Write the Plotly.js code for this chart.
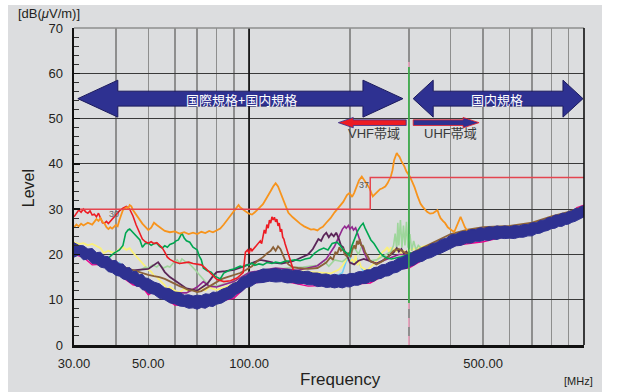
<!DOCTYPE html>
<html><head><meta charset="utf-8">
<script src="https://cdn.plot.ly/plotly-3.0.1.min.js"></script>
<style>
html,body{margin:0;padding:0;background:#fff;width:623px;height:392px;overflow:hidden;}
#chart{position:absolute;left:8px;top:5px;width:594px;height:387px;}
</style></head><body><div id="chart"></div>
<script>
// ---- axis ticks ----
const gridF = [30,40,50,60,70,80,90,100,200,300,400,500,600,700,800,900,1000];
const gridLabels = ['30.00','','50.00','','','','','100.00','','','','500.00','','','','','1000.00'];

// ---- limit line ----
const limitF = [30,230,230,1000];
const limitV = [30,30,37,37];

// ---- VHF/UHF boundary marker (300 MHz) and 100 MHz rule ----
const boundF = [300,300];
const boundGreenV = [9.3,61.4];
const boundPinkV = [0,9.3];
const boundTopV = [61.4,62.5];
const line100F = [100,100];
const line100V = [0,70];

// ---- blue band (lowest trace, noisy band envelope) ----
const blueF = [30,31,32,33,34,35,36,37,38,39,
40,41,42,43,44,45,46,47,48,49,
50,52,54,56,58,60,62,64,66,68,
70,72,74,76,78,80,83,86,89,92,
95,98,101,105,110,115,120,125,130,135,
140,145,150,155,160,165,170,175,180,185,
190,195,200,206,212,218,224,230,236,242,
248,255,262,270,278,286,295,300,310,320,
330,340,350,362,375,388,400,415,430,445,
460,475,490,505,520,535,550,565,580,600,
620,640,660,680,700,720,740,760,780,800,
820,840,860,880,900,920,940,960,980,1000];
const blueLo = [19.4,19.9,18.8,19.0,18.0,17.9,17.2,17.0,16.2,16.0,
15.4,15.2,14.6,14.4,13.8,13.6,13.0,12.9,12.2,12.1,
11.5,11.2,10.3,10.0,9.3,9.1,8.6,8.5,8.1,8.2,
7.9,8.3,8.1,8.6,8.5,9.0,9.3,10.0,10.4,11.3,
11.8,12.7,12.9,13.7,13.8,14.1,13.9,14.0,13.7,13.8,
13.5,13.6,13.3,13.3,12.9,13.0,12.7,12.8,12.6,12.8,
12.6,12.9,12.8,13.2,13.2,13.6,13.6,14.0,14.1,14.6,
14.7,15.2,15.3,15.9,16.1,16.7,16.9,17.3,17.6,18.3,
18.5,19.1,19.3,19.9,20.3,20.9,21.3,21.9,22.0,22.5,
22.5,22.9,22.9,23.2,23.1,23.4,23.3,23.6,23.5,23.6,
23.5,23.8,23.8,24.1,24.1,24.6,24.7,25.1,25.3,25.7,
25.8,26.2,26.2,26.6,26.7,27.1,27.3,27.7,27.9,28.3];
const blueHi = [22.6,22.0,21.9,21.2,21.3,20.4,20.5,19.6,19.5,18.6,
18.7,17.9,17.9,17.0,17.1,16.2,16.3,15.5,15.6,14.8,
14.7,13.9,13.5,12.6,12.4,11.7,11.6,11.0,11.1,10.8,
11.0,10.9,11.3,11.2,11.7,11.6,12.3,12.7,13.5,13.9,
14.9,15.3,16.0,16.2,16.8,16.7,16.9,16.6,16.7,16.4,
16.5,16.2,16.3,15.9,15.9,15.6,15.7,15.4,15.6,15.4,
15.6,15.5,15.8,15.8,16.2,16.2,16.6,16.6,17.1,17.2,
17.7,17.8,18.3,18.5,19.1,19.3,19.9,19.9,20.6,20.9,
21.5,21.7,22.3,22.6,23.3,23.6,24.3,24.5,25.0,25.1,
25.5,25.5,25.9,25.8,26.1,26.0,26.3,26.1,26.3,26.1,
26.4,26.3,26.6,26.6,27.0,27.0,27.5,27.6,28.1,28.2,
28.7,28.7,29.1,29.1,29.5,29.6,30.1,30.1,30.6,30.7];

// ---- orange ----
const orangeF = [30,30.5,31,31.5,32,33,34,35,35.5,36,
36.5,37,37.5,38,38.5,39,40,40.5,41,41.5,
42,43,43.5,44,44.5,45,46,47,48,49,
50,51,52,53,54,55,56,58,60,62,
64,66,68,70,72,74,76,78,80,82,
84,86,88,90,92,93,94,96,98,100,
102,104,106,108,110,112,114,116,118,120,
122,124,126,128,131,135,139,142,146,150,
153,156,160,163,166,170,175,180,184,188,
191,196,199,201,203,206,210,213,217,221,
225,229,234,238,242,246,250,255,259,265,
268,271,274,276,278,281,285,288,291,295,
298,302,307,312,319,325,330,335,340,347,
354,360,365,369,373,379,385,392,400,405,
410,415,420,424,428,432,436,441,447,452,
458,465,473,480,490,500,510,520,535,550];
const orangeV = [26.0,26.6,26.2,26.8,26.4,27.0,26.6,27.8,27.4,28.0,
27.2,26.8,26.0,25.6,26.0,25.7,26.5,26.2,27.6,29.0,
29.8,30.4,30.1,30.9,30.6,29.8,28.7,27.6,26.8,26.1,
25.4,25.9,27.0,26.5,26.0,25.6,25.2,24.9,25.1,24.6,
24.9,24.5,24.8,24.5,25.0,24.7,25.2,24.9,25.4,25.7,
26.6,27.6,28.5,29.3,30.2,30.9,30.4,29.8,29.4,29.0,
28.8,29.3,30.0,30.5,31.1,32.0,33.1,34.0,35.0,35.7,
35.0,33.6,32.4,31.0,29.2,28.2,27.3,26.8,26.2,25.8,
25.5,25.6,25.3,25.8,26.1,27.0,28.0,29.3,30.2,31.0,
31.6,33.1,33.5,33.2,32.7,33.6,35.2,36.4,37.2,36.4,
35.4,34.6,32.8,33.4,33.8,34.4,34.6,35.0,35.7,37.2,
38.6,40.8,41.8,42.4,42.0,41.6,40.6,40.1,39.4,38.3,
37.8,37.2,36.0,34.8,32.7,31.2,30.5,29.8,29.4,29.0,
29.1,29.5,29.8,28.8,28.0,27.4,26.9,26.0,25.4,25.2,
25.0,26.0,27.2,27.8,28.3,27.6,26.9,26.0,25.4,25.0,
24.7,24.9,25.0,25.3,25.6,25.8,25.3,25.5,25.2,25.4];

// ---- red ----
const redF = [30,30.5,31,31.5,32,32.5,33,33.5,34,34.5,
35,35.5,36,36.5,37,37.5,38,39,40,41,
42,43,44,45,46,47,48,49,50,51,
52,53,54,55,56,57,58,60,62,64,
66,68,70,72,74,76,78,80,84,88,
92,96,97.5,99,100,101,102,104,106,108,
109,110,111,112,113,114,115,116,117,118,
119,120,121,122,123,124,125,126,127,128,
129,130,131,132,134,137,145,160,200,230,
245,255,265,300];
const redV = [28.3,29.2,29.8,29.3,30.0,29.4,29.1,29.6,28.7,28.9,
28.3,29.1,28.2,27.0,26.9,27.3,26.8,27.8,28.6,29.6,
30.2,30.6,30.0,28.5,26.5,25.0,23.4,22.8,22.5,22.8,
22.4,22.6,22.0,21.5,20.5,19.4,18.9,18.3,18.0,18.1,
18.3,18.0,17.8,17.7,17.0,16.2,15.2,14.5,14.0,14.2,
14.8,16.0,20.5,21.0,20.2,21.4,20.8,21.6,22.4,23.0,
22.4,24.2,25.4,24.6,26.6,25.8,27.6,26.9,28.3,27.6,
28.2,27.2,27.8,26.3,26.9,25.0,25.6,23.8,23.4,22.4,
21.6,21.0,19.8,19.4,17.5,15.5,15.0,14.5,14.5,15.5,
16.8,16.2,17.2,18.5];

// ---- green ----
const greenF = [30,33,35,36.5,38,39.5,41,42,42.8,43.5,
44,44.5,45.5,46.5,47.2,48,49,50,51,52,
53,54,55,56,57,58,59.5,60.5,61.5,62.5,
63,64,65,66.5,68,70,71,72,73,75,
77,79,82,84,86,88,90,92,94,96,
98,100,102,104,107,110,113,117,120,124,
128,132,137,142,147,152,157,162,167,172,
177,183,187,191,195,199,203,207,211,215,
219,222,226,231,236,241,246,252,258,266,
275,285,295,305];
const greenV = [21.5,21.0,19.5,18.3,19.2,20.3,21.0,22.0,24.7,25.4,
25.6,25.2,24.3,23.6,23.2,21.6,22.4,22.5,22.0,22.4,
22.5,21.8,21.4,21.9,21.6,22.2,22.5,23.0,23.2,24.2,
24.7,23.6,23.0,22.7,21.6,21.0,19.6,18.8,17.0,16.4,
16.1,15.2,14.6,15.9,16.3,16.6,16.8,17.1,17.4,17.2,
17.6,17.7,18.1,17.6,17.9,17.7,18.2,18.0,18.3,18.1,
18.5,18.6,18.8,18.6,19.0,19.2,20.3,21.0,21.4,21.0,
22.4,22.7,22.0,21.0,20.4,19.8,22.0,23.5,25.2,26.2,
26.9,25.8,24.6,23.2,22.4,21.4,20.3,19.6,19.2,19.0,
19.2,19.5,19.8,20.4];

// ---- light green ----
const lgreenF = [30,35,40,44,46,48,49,50,51.5,53,
54,55.5,57,58,59.5,61,62,63,64.5,66,
67.5,69,70.5,72,74,76,80,90,100,115,
130,145,160,167,173,180,190,200,206,212,
218,224,230,240,250,258,265,270,273,276,
278,280,283,286,289,292,295,298,302,306,
310,315,320,330];
const lgreenV = [21.0,19.0,17.5,16.5,16.2,16.8,17.2,17.0,17.7,17.2,
17.8,17.0,17.4,17.2,18.2,18.8,18.0,19.0,18.4,18.1,
17.4,16.6,15.8,15.0,14.0,13.0,13.0,14.0,16.0,16.6,
17.0,17.2,17.6,18.6,17.4,18.8,18.4,19.8,21.6,20.0,
22.2,19.6,18.6,18.8,19.5,20.2,20.6,22.0,24.6,21.0,
27.0,22.0,27.6,21.5,26.4,22.0,27.2,21.5,24.5,20.8,
23.0,21.0,22.0,21.0];

// ---- yellow ----
const yellowF = [30,31,32,33,34,35,36,36.8,38,39,
40,41,42,43,44,45,46,47,48,49,
50,51,52,53,54,55,56,57,58,60,
62,64,66,68,70,72,74,76,78,80,
85,90,100,115,130,145,160,175,185,190,
194,197,200,203,206,208,211,213,216,220,
225,230,238,245,250,255,259,262,265,268,
272,275,280,285,290,295,302,310,330,350];
const yellowV = [22.7,22.3,22.5,22.0,22.3,21.8,21.4,20.3,20.8,20.4,
20.5,21.2,21.6,21.0,21.4,20.4,19.6,18.8,18.0,17.2,
16.6,16.2,15.3,15.0,14.3,13.8,13.2,12.3,12.8,12.0,
11.6,12.4,11.8,12.4,11.8,12.6,12.0,12.8,12.4,12.2,
12.8,13.5,15.0,16.0,16.5,16.2,16.0,15.8,16.6,17.5,
18.6,19.5,18.2,19.0,18.0,19.8,17.6,18.6,17.2,16.8,
16.5,17.2,18.2,19.5,20.5,21.0,21.6,20.4,21.6,20.2,
21.4,20.6,21.2,20.0,20.8,20.4,21.0,21.2,21.8,22.2];

// ---- brown ----
const brownF = [30,32,35,38,40,43,45,48,50,52,
54,56,58,60,62,64,66,68,70,72,
74,76,78,80,83,86,90,94,98,102,
106,110,113,116,118,120,122,124,126,128,
131,135,140,150,160,170,175,178,181,183,
186,188,191,193,196,198,201,203,206,208,
210,212,214,216,219,222,226,230,235,240,
250,260,270,280,290,300,320,350,400,450,
500,600,700,800,900,1000];
const brownV = [21.5,20.7,19.8,18.8,18.2,17.0,16.5,15.8,15.5,15.2,
15.0,14.6,14.0,13.6,13.0,12.6,12.1,12.0,11.7,11.9,
12.4,12.9,13.5,14.0,14.6,15.0,15.5,15.9,16.6,17.4,
18.6,19.4,20.2,20.8,21.6,20.8,21.8,21.2,20.0,18.8,
17.8,17.2,17.0,16.8,17.0,18.2,19.4,18.8,20.6,20.0,
21.6,20.8,21.2,20.0,19.6,20.4,19.4,21.0,22.0,21.2,
23.0,22.2,23.4,22.0,21.8,20.5,19.6,18.5,18.2,17.8,
18.5,19.5,20.8,21.2,20.5,20.0,21.0,22.4,24.5,25.5,
26.0,26.3,27.0,28.4,29.4,30.7];

// ---- dark purple ----
const dpurpleF = [30,35,40,45,50,52,53.5,55,56,58,
60,65,70,75,78,80,85,90,95,99,
104,108,112,118,125,130,135,140,145,150,
155,158,161,164,167,170,173,176,179,182,
185,188,191,194,197,200,206,212,220,230,
240,250,260,270,276,280,285,290,295,300,
320];
const dpurpleV = [21.2,19.5,17.8,16.5,16.8,17.6,18.3,17.0,16.1,15.0,
14.2,12.5,12.0,13.5,15.2,16.1,16.3,16.6,17.2,17.7,
18.4,18.8,18.6,18.2,18.0,18.3,18.5,19.0,19.6,20.0,
21.2,22.4,23.4,23.0,24.2,24.8,23.8,24.6,24.0,24.8,
23.6,22.0,21.6,20.0,19.4,18.2,17.8,18.6,19.0,18.5,
18.0,18.6,19.5,20.4,21.4,20.6,21.2,20.2,20.6,19.5,
20.5];

// ---- purple ----
const purpleF = [30,35,37,40,45,50,55,60,65,70,
73,76,80,90,100,120,140,150,160,170,
175,180,183,186,188,190,193,195,198,200,
203,205,208,210,213,215,218,220,225,230,
240,260,280,300];
const purpleV = [21.0,19.0,17.5,16.5,15.2,14.0,12.5,11.5,11.5,12.8,
14.0,13.0,12.8,14.0,16.0,17.0,16.5,17.0,17.5,19.0,
20.5,21.8,23.0,24.2,25.0,25.6,26.2,25.8,26.4,25.6,
26.1,25.4,25.9,25.0,23.6,22.4,21.6,20.6,19.0,18.5,
18.0,19.0,20.0,20.0];

// ---- magenta ----
const magentaF = [30,32,34,36,40,45,48,50,52,55,
60,70,80,90,100,120,150,180,200,230,
260,280,300,350,400,500,600,700,800,900,
950,1000];
const magentaV = [20.0,19.4,17.7,17.8,16.0,13.3,12.8,11.1,11.8,10.7,
8.8,8.6,9.6,10.3,13.5,14.5,13.0,13.2,13.4,13.7,
15.9,16.8,17.0,19.9,21.9,22.8,24.2,24.7,26.3,27.3,
30.3,30.9];

// ---- light blue ----
const lblueF = [30,35,38,40,41,42,44,50,60,70,
80,90,100,130,160,180,190,195,200,205,
210,215,220,240,270,300,330];
const lblueV = [21.0,19.5,18.0,17.5,18.2,17.0,15.5,13.0,10.5,9.8,
10.5,12.5,14.5,15.5,15.2,15.0,16.0,18.5,19.2,18.0,
19.0,17.5,16.0,16.0,17.5,19.2,20.5];

// ---- helpers (paper coords for decorations) ----
const L30 = Math.log10(30), L1000 = Math.log10(1000);
function px(f){ return (Math.log10(f)-L30)/(L1000-L30); }
function py(v){ return v/70; }
const PW = 510; // plot width in px

function dblArrow(fL, fR, vc, bh, hh, headPx){
  const hl = headPx/PW, xL = px(fL), xR = px(fR);
  return 'M'+xL+','+py(vc)+' L'+(xL+hl)+','+py(vc+hh)+' L'+(xL+hl)+','+py(vc+bh)+
    ' L'+(xR-hl)+','+py(vc+bh)+' L'+(xR-hl)+','+py(vc+hh)+' L'+xR+','+py(vc)+
    ' L'+(xR-hl)+','+py(vc-hh)+' L'+(xR-hl)+','+py(vc-bh)+' L'+(xL+hl)+','+py(vc-bh)+
    ' L'+(xL+hl)+','+py(vc-hh)+' Z';
}
function oneArrow(fTip, fTail, vc, bh, hh, headPx){
  const xt = px(fTip), xe = px(fTail), dir = xe > xt ? 1 : -1, xb = xt + dir*headPx/PW;
  return 'M'+xt+','+py(vc)+' L'+xb+','+py(vc+hh)+' L'+xb+','+py(vc+bh)+' L'+xe+','+py(vc+bh)+
    ' L'+xe+','+py(vc-bh)+' L'+xb+','+py(vc-bh)+' L'+xb+','+py(vc-hh)+' Z';
}

function ln(x, y, color, w, extra){
  return Object.assign({x:x, y:y, type:'scatter', mode:'lines', line:{color:color, width:w}, hoverinfo:'skip'}, extra||{});
}

const BLUE = '#2e3191';
const data = [
  ln(line100F, line100V, '#111111', 1.6),
  ln(lblueF, lblueV, '#6dcff6', 1.5),
  ln(magentaF, magentaV, '#ec008c', 1.4),
  ln(yellowF, yellowV, '#fbf17a', 1.8),
  ln(lgreenF, lgreenV, '#9fd69c', 1.6),
  ln(purpleF, purpleV, '#92278f', 1.6),
  ln(dpurpleF, dpurpleV, '#5a2558', 1.8),
  ln(brownF, brownV, '#8c6239', 1.8),
  ln(greenF, greenV, '#00a651', 1.6),
  ln(redF, redV, '#ed1c24', 1.6),
  ln(orangeF, orangeV, '#f7941d', 1.8),
  ln(blueF, blueLo, BLUE, 1),
  ln(blueF, blueHi, BLUE, 1, {fill:'tonexty', fillcolor:BLUE}),
  ln(limitF, limitV, '#e4454f', 1.5),
  ln(boundF, boundPinkV, '#f4a6c4', 1.5, {line:{color:'#f4a6c4', width:1.5, dash:'dash'}}),
  ln(boundF, boundTopV, '#f4a6c4', 1.5),
  ln(boundF, boundGreenV, '#3cb44b', 1.6)
];

const TXT = '#231f20';
const FAM = 'Liberation Sans, Arial, Noto Sans CJK JP, sans-serif';
const JFAM = 'Noto Sans CJK JP, Liberation Sans, sans-serif';

const shapes = [
  {type:'path', xref:'paper', yref:'paper', path:dblArrow(30.8, 288, 54.4, 1.65, 4.08, 40), fillcolor:BLUE, line:{color:'#1b1a5c', width:1}, layer:'above'},
  {type:'path', xref:'paper', yref:'paper', path:dblArrow(309, 993, 54.4, 1.65, 4.08, 20), fillcolor:BLUE, line:{color:'#1b1a5c', width:1}, layer:'above'},
  {type:'path', xref:'paper', yref:'paper', path:oneArrow(184.6, 294.5, 49.1, 0.62, 1.15, 15), fillcolor:'#ed1c24', line:{color:BLUE, width:0.8}, layer:'above'},
  {type:'path', xref:'paper', yref:'paper', path:oneArrow(486, 309, 49.1, 0.62, 1.15, 16), fillcolor:BLUE, line:{color:'#ed1c24', width:0.8}, layer:'above'},
  {type:'line', xref:'paper', yref:'paper', x0:0, x1:1, y0:1, y1:1, line:{color:'#8e8e8e', width:1.5}, layer:'above'},
  {type:'line', xref:'paper', yref:'paper', x0:1, x1:1, y0:0, y1:1, line:{color:'#111', width:1.6}, layer:'above'}
];

function ann(x, y, text, font, extra){
  return Object.assign({xref:'paper', yref:'paper', x:x, y:y, text:text, showarrow:false,
    xanchor:'center', yanchor:'middle', font:font}, extra||{});
}
const annotations = [
  ann(px(94.6), py(54.3), '国際規格+国内規格', {family:JFAM, size:13, color:'#ffffff'}),
  ann(px(551.7), py(54.3), '国内規格', {family:JFAM, size:13, color:'#ffffff'}),
  ann(px(236), py(46.8), 'VHF帯域', {family:FAM, size:13, color:'#3a3a3a'}),
  ann(px(399), py(46.8), 'UHF帯域', {family:FAM, size:13, color:'#3a3a3a'}),
  ann(px(39.5), py(29.0), '30', {family:FAM, size:9, color:'#666'}),
  ann(px(219.6), py(35.3), '37', {family:FAM, size:9, color:'#555'}),
  ann(-0.090, 0.495, 'Level', {family:FAM, size:16, color:TXT}, {textangle:-90}),
  ann(0.5216, -0.110, 'Frequency', {family:FAM, size:17, color:TXT}),
  ann(0.990, -0.1136, '[MHz]', {family:FAM, size:11, color:TXT}),
  ann(-0.049, 1.047, '[dB(<i>μ</i>V/m)]', {family:FAM, size:13, color:TXT})
];

const layout = {
  width:594, height:387,
  margin:{l:66, r:18, t:23, b:47, pad:0},
  paper_bgcolor:'#dcdddf', plot_bgcolor:'#dcdddf',
  showlegend:false,
  font:{family:FAM, color:TXT},
  xaxis:{type:'log', range:[L30, L1000], tickvals:gridF, ticktext:gridLabels,
    showgrid:true, gridcolor:'#8e8e8e', gridwidth:1.5, showline:true, linecolor:'#111', linewidth:2.5,
    ticks:'', zeroline:false, tickfont:{size:13, color:TXT}, ticklabelstandoff:5, fixedrange:true},
  yaxis:{range:[0,70], dtick:10, tick0:0, showgrid:true, gridcolor:'#3a3a3a', gridwidth:1.2,
    showline:true, linecolor:'#111', linewidth:2.5, ticks:'inside', ticklen:6, tickwidth:1.5, tickcolor:'#111',
    minor:{dtick:2, ticks:'inside', ticklen:5, tickwidth:1, tickcolor:'#333', showgrid:false},
    zeroline:false, tickfont:{size:13, color:TXT}, ticklabelstandoff:6, fixedrange:true},
  shapes:shapes, annotations:annotations
};

Plotly.newPlot('chart', data, layout, {displayModeBar:false, staticPlot:true});
</script></body></html>
